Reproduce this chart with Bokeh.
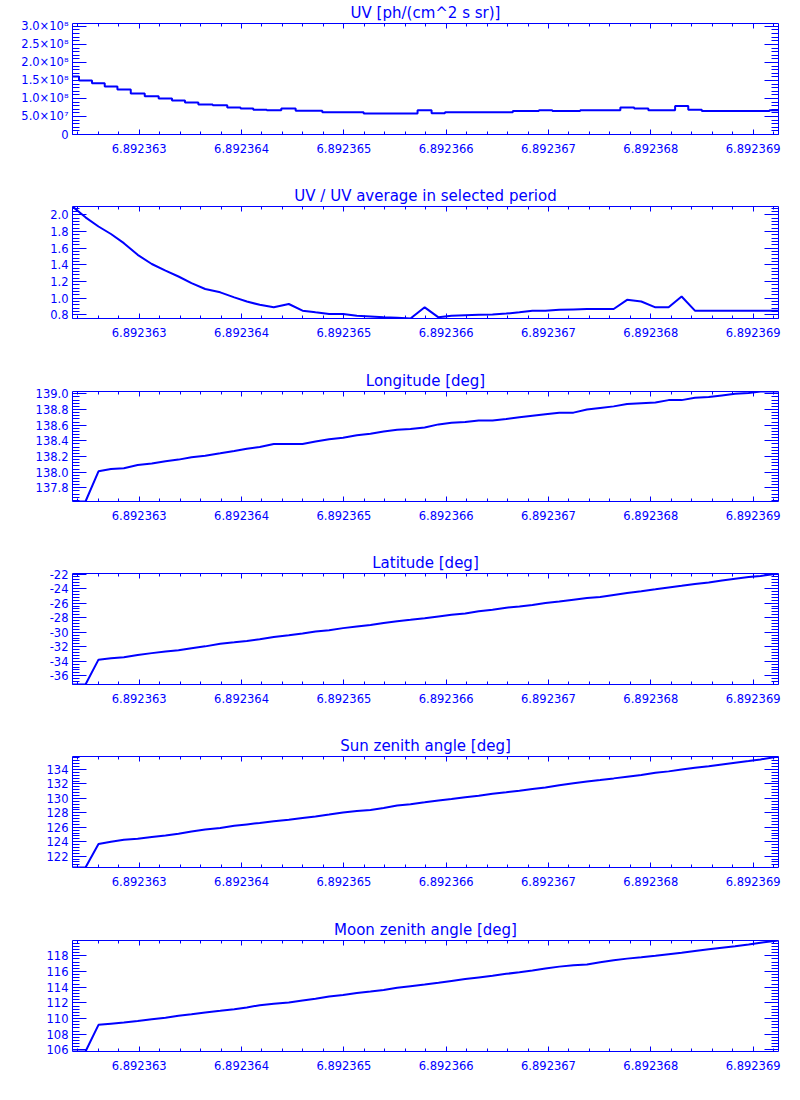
from bokeh.plotting import figure
from bokeh.layouts import column
from bokeh.models import (Range1d, FixedTicker, PrintfTickFormatter,
                          CustomJSTickFormatter, LinearAxis, ColumnDataSource)
from bokeh.embed import file_html
from bokeh.resources import INLINE

BLUE = "#0000ff"
FONT = "DejaVu Sans"

# ---------------- data ----------------
time = [6.892362348, 6.892362475, 6.892362602, 6.892362724, 6.892362850,
        6.892362985, 6.892363123, 6.892363257, 6.892363384, 6.892363511,
        6.892363645, 6.892363792, 6.892363929, 6.892364052, 6.892364178,
        6.892364315, 6.892364462, 6.892364596, 6.892364723, 6.892364856,
        6.892364992, 6.892365127, 6.892365260, 6.892365389, 6.892365521,
        6.892365651, 6.892365790, 6.892365925, 6.892366052, 6.892366186,
        6.892366318, 6.892366453, 6.892366587, 6.892366716, 6.892366843,
        6.892366970, 6.892367105, 6.892367244, 6.892367376, 6.892367505,
        6.892367637, 6.892367768, 6.892367907, 6.892368045, 6.892368174,
        6.892368301, 6.892368431, 6.892368566, 6.892368695, 6.892368824,
        6.892368956, 6.892369072, 6.892369248]

uv = [1.61e8, 1.50e8, 1.42e8, 1.33e8, 1.25e8, 1.14e8, 1.06e8, 1.00e8, 0.94e8, 0.89e8,
      0.83e8, 0.81e8, 0.75e8, 0.72e8, 0.69e8, 0.675e8, 0.72e8, 0.66e8, 0.66e8, 0.62e8,
      0.62e8, 0.62e8, 0.58e8, 0.58e8, 0.58e8, 0.58e8, 0.675e8, 0.59e8, 0.62e8, 0.62e8,
      0.62e8, 0.62e8, 0.62e8, 0.65e8, 0.65e8, 0.675e8, 0.65e8, 0.65e8, 0.675e8, 0.675e8,
      0.675e8, 0.75e8, 0.72e8, 0.675e8, 0.675e8, 0.79e8, 0.69e8, 0.65e8, 0.65e8, 0.65e8,
      0.65e8, 0.65e8, 0.675e8]

uv_ratio = [2.10, 1.97, 1.86, 1.77, 1.66, 1.52, 1.41, 1.33, 1.26, 1.18,
            1.11, 1.07, 1.01, 0.96, 0.92, 0.89, 0.93, 0.85, 0.83, 0.81,
            0.81, 0.79, 0.78, 0.77, 0.765, 0.756, 0.89, 0.77, 0.79, 0.795,
            0.80, 0.805, 0.815, 0.83, 0.85, 0.85, 0.86, 0.865, 0.87, 0.87,
            0.87, 0.98, 0.96, 0.89, 0.89, 1.02, 0.85, 0.85, 0.85, 0.85,
            0.85, 0.85, 0.85]

longitude = [137.625, 137.625, 138.01, 138.04, 138.05, 138.09, 138.11, 138.14, 138.16, 138.19,
             138.21, 138.24, 138.27, 138.30, 138.32, 138.36, 138.36, 138.36, 138.39, 138.42,
             138.44, 138.47, 138.49, 138.52, 138.54, 138.55, 138.57, 138.61, 138.63, 138.64,
             138.66, 138.66, 138.68, 138.70, 138.72, 138.74, 138.76, 138.76, 138.80, 138.82,
             138.84, 138.87, 138.88, 138.89, 138.92, 138.92, 138.95, 138.96, 138.98, 139.00,
             139.01, 139.03, 139.03]

latitude = [-37.2, -37.2, -33.78, -33.6, -33.45, -33.13, -32.88, -32.65, -32.5, -32.2,
            -31.95, -31.6, -31.4, -31.2, -30.96, -30.67, -30.42, -30.17, -29.92, -29.72,
            -29.44, -29.22, -29.0, -28.72, -28.5, -28.3, -28.08, -27.83, -27.6, -27.42,
            -27.13, -26.9, -26.62, -26.47, -26.25, -25.98, -25.78, -25.53, -25.3, -25.17,
            -24.88, -24.6, -24.37, -24.1, -23.84, -23.62, -23.38, -23.15, -22.87, -22.64,
            -22.41, -22.25, -21.92]

sun_zenith = [120.43, 120.43, 123.68, 124.0, 124.28, 124.4, 124.65, 124.87, 125.1, 125.4,
              125.7, 125.9, 126.2, 126.4, 126.6, 126.85, 127.05, 127.28, 127.5, 127.76,
              128.05, 128.25, 128.4, 128.67, 129.0, 129.2, 129.45, 129.7, 129.9, 130.15,
              130.35, 130.65, 130.85, 131.06, 131.3, 131.5, 131.82, 132.1, 132.35, 132.55,
              132.77, 133.0, 133.25, 133.55, 133.74, 134.0, 134.25, 134.45, 134.7, 134.94,
              135.17, 135.4, 135.8]

moon_zenith = [105.8, 105.8, 109.2, 109.35, 109.5, 109.7, 109.92, 110.1, 110.35, 110.55,
               110.77, 110.98, 111.2, 111.42, 111.7, 111.9, 112.06, 112.3, 112.52, 112.8,
               113.0, 113.25, 113.45, 113.65, 113.92, 114.13, 114.35, 114.57, 114.8, 115.03,
               115.24, 115.45, 115.7, 115.9, 116.13, 116.37, 116.62, 116.81, 116.9, 117.19,
               117.44, 117.64, 117.82, 118.0, 118.2, 118.4, 118.62, 118.83, 119.03, 119.23,
               119.45, 119.66, 119.95]

titles = ["UV [ph/(cm^2 s sr)]", "UV / UV average in selected period",
          "Longitude [deg]", "Latitude [deg]", "Sun zenith angle [deg]",
          "Moon zenith angle [deg]"]

x_major = [6.892363, 6.892364, 6.892365, 6.892366, 6.892367, 6.892368, 6.892369]
x_minor = [round(6.892362 + 0.0000002 * k, 10) for k in range(2, 37)]

uv_major = [0.0, 0.5e8, 1.0e8, 1.5e8, 2.0e8, 2.5e8, 3.0e8]
ratio_major = [0.8, 1.0, 1.2, 1.4, 1.6, 1.8, 2.0]
lon_major = [137.8, 138.0, 138.2, 138.4, 138.6, 138.8, 139.0]
lat_major = [-36, -34, -32, -30, -28, -26, -24, -22]
sun_major = [122, 124, 126, 128, 130, 132, 134]
moon_major = [106, 108, 110, 112, 114, 116, 118]


def minors(lo, hi, step):
    out = []
    k = int(lo // step) - 1
    while k * step <= hi + 1e-12:
        v = round(k * step, 10)
        if lo - 1e-12 <= v <= hi + 1e-12:
            out.append(v)
        k += 1
    return out


UV_FMT = CustomJSTickFormatter(code=r"""
if (Math.abs(tick) < 1e-6) { return "0"; }
const e = Math.floor(Math.log10(Math.abs(tick)) + 1e-9);
const m = tick / Math.pow(10, e);
const sup = ["\u2070","\u00b9","\u00b2","\u00b3","\u2074","\u2075","\u2076","\u2077","\u2078","\u2079"];
let s = "";
for (const c of String(e)) { s += sup[parseInt(c)]; }
return m.toFixed(1) + "\u00d710" + s;
""")


def style_axis(ax, tick_in, minor_in, labels=True):
    ax.axis_line_color = BLUE
    ax.axis_line_width = 1
    ax.major_tick_line_color = BLUE
    ax.minor_tick_line_color = BLUE
    ax.major_tick_in = tick_in
    ax.major_tick_out = 0
    ax.minor_tick_in = minor_in
    ax.minor_tick_out = 0
    ax.major_label_text_color = BLUE
    ax.major_label_text_font = FONT
    ax.major_label_text_font_size = "11.5px"
    if not labels:
        ax.formatter = CustomJSTickFormatter(code="return '';")
        ax.major_label_standoff = 0


def panel(title, yvals, ylo, yhi, ymajor, yminor_step, yfmt, step,
          top_b, frame_h, bottom_b):
    p = figure(width=792, height=top_b + frame_h + bottom_b,
               x_range=Range1d(time[0], time[-1]),
               y_range=Range1d(ylo, yhi),
               output_backend="svg", toolbar_location=None,
               min_border_left=72, min_border_right=14,
               min_border_top=top_b, min_border_bottom=bottom_b,
               title=title)
    p.outline_line_color = None
    p.xgrid.visible = False
    p.ygrid.visible = False
    p.background_fill_color = "white"
    p.border_fill_color = "white"
    p.title.align = "center"
    p.title.text_font = FONT
    p.title.text_font_size = "15px"
    p.title.text_font_style = "normal"
    p.title.text_color = BLUE
    p.title.standoff = 3

    xt = FixedTicker(ticks=x_major, minor_ticks=x_minor)
    yt = FixedTicker(ticks=ymajor, minor_ticks=minors(ylo, yhi, yminor_step))

    xb = p.xaxis[0]
    xb.ticker = xt
    xb.formatter = PrintfTickFormatter(format="%.6f")
    style_axis(xb, 5, 3)
    xb.major_label_standoff = 9

    yl = p.yaxis[0]
    yl.ticker = yt
    yl.formatter = yfmt
    style_axis(yl, 14, 7)
    yl.major_label_standoff = 4

    xtop = LinearAxis(ticker=xt)
    style_axis(xtop, 5, 3, labels=False)
    p.add_layout(xtop, "above")
    yr = LinearAxis(ticker=yt)
    style_axis(yr, 14, 7, labels=False)
    p.add_layout(yr, "right")

    src = ColumnDataSource(data=dict(t=time, v=yvals))
    if step:
        p.step(x="t", y="v", source=src, mode="center", line_color=BLUE, line_width=2)
    else:
        p.line(x="t", y="v", source=src, line_color=BLUE, line_width=2)
    return p


f1 = panel(titles[0], uv, 0.0, 3.08e8, uv_major, 1e7, UV_FMT, True, 23, 111, 49)
f2 = panel(titles[1], uv_ratio, min(uv_ratio), max(uv_ratio), ratio_major, 0.04,
           PrintfTickFormatter(format="%.1f"), False, 23, 112, 50)
f3 = panel(titles[2], longitude, min(longitude), max(longitude), lon_major, 0.04,
           PrintfTickFormatter(format="%.1f"), False, 23, 110, 49)
f4 = panel(titles[3], latitude, min(latitude), max(latitude), lat_major, 0.4,
           PrintfTickFormatter(format="%d"), False, 23, 111, 49)
f5 = panel(titles[4], sun_zenith, min(sun_zenith), max(sun_zenith), sun_major, 0.4,
           PrintfTickFormatter(format="%d"), False, 23, 111, 50)
f6 = panel(titles[5], moon_zenith, min(moon_zenith), max(moon_zenith), moon_major, 0.4,
           PrintfTickFormatter(format="%d"), False, 23, 111, 40)

layout = column(f1, f2, f3, f4, f5, f6, spacing=0)
open("out.html", "w", encoding="utf-8").write(file_html(layout, INLINE))
